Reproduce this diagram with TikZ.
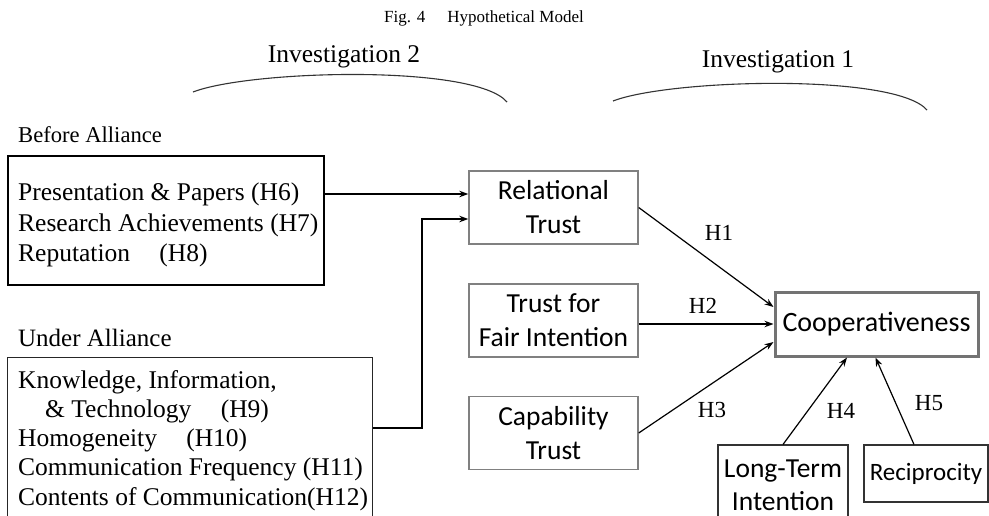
\documentclass[tikz,border=0pt]{standalone}
\usepackage{fontspec}
\setmainfont{Liberation Serif}
\newfontfamily\boxfont{Carlito}
\usetikzlibrary{arrows.meta,calc}
\begin{document}
\begin{tikzpicture}[x=1pt,y=-1pt,
  serif/.style={inner sep=0pt,font=\fontsize{25.5}{30.5}\selectfont},
  hlab/.style={inner sep=0pt,font=\fontsize{23}{26}\selectfont},
  inv/.style={inner sep=0pt,anchor=base,font=\fontsize{25.5}{30}\selectfont},
  gbox/.style={draw=black!50,line width=1.4pt,minimum width=169pt,minimum height=73pt,
    inner sep=0pt,align=center,font=\boxfont\fontsize{27.5}{34}\selectfont},
  dbox/.style={draw=black!80,line width=1.1pt,inner sep=0pt,align=center,
    font=\boxfont\fontsize{27.5}{33}\selectfont},
  arr/.style={-{Stealth[length=9pt,width=6.5pt]},line width=1.2pt},
  brace/.style={line width=1.1pt,draw=black!80},
]
\useasboundingbox (0,0) rectangle (989,515);
\clip (0,0) rectangle (989,515);

% title and headings
\node[inner sep=0pt,anchor=base,font=\fontsize{17}{20}\selectfont] (title) at (484,22) {Fig. 4\hspace{1.3em}Hypothetical Model};
\node[inv] (inv2) at (344,62) {Investigation 2};
\node[inv] (inv1) at (778,67) {Investigation 1};

% arcs
\coordinate (a1l) at (193,92);
\coordinate (a1r) at (507,102);
\draw[brace] (a1l) .. controls (250,70) and (475,64) .. (a1r);
\coordinate (a2l) at (613,101);
\coordinate (a2r) at (927,110);
\draw[brace] (a2l) .. controls (670,79) and (895,73) .. (a2r);

% before alliance
\node[inner sep=0pt,anchor=base west,font=\fontsize{22.6}{26}\selectfont] (before) at (18,142) {Before Alliance};
\node[draw,line width=1.8pt,anchor=north west,minimum width=316pt,minimum height=129pt,inner sep=0pt] (bA) at (7,155) {};
\node[serif,anchor=base west] (a1) at (18,200.5) {Presentation \& Papers (H6)};
\node[serif,anchor=base west] (a2) at (18,231.5) {Research Achievements (H7)};
\node[serif,anchor=base west] (a3) at (18,261.5) {Reputation\hspace{1.15em}(H8)};

% under alliance
\node[inner sep=0pt,anchor=base west,font=\fontsize{25}{29}\selectfont] (under) at (18,346) {Under Alliance};
\node[draw=black!85,line width=1pt,anchor=north west,minimum width=365pt,minimum height=190pt,inner sep=0pt] (bB) at (7,357) {};
\node[serif,anchor=base west] (b1) at (18,388.5) {Knowledge, Information,};
\node[serif,anchor=base west] (b2) at (45,417) {\& Technology\hspace{1.15em}(H9)};
\node[serif,anchor=base west] (b3) at (18,446.5) {Homogeneity\hspace{1.15em}(H10)};
\node[serif,anchor=base west] (b4) at (18,475.5) {Communication Frequency (H11)};
\node[serif,anchor=base west] (b5) at (18,505.5) {Contents of Communication(H12)};

% trust boxes
\node[gbox] (rel) at (553.5,207.5) {Relational\\Trust};
\node[gbox] (fair) at (553.5,320.5) {Trust for\\Fair Intention};
\node[gbox] (cap) at (553.5,433) {Capability\\Trust};

% cooperativeness and moderators
\node[draw=black!55,line width=3pt,minimum width=203pt,minimum height=64pt,inner sep=0pt,
  font=\boxfont\fontsize{28}{33}\selectfont] (coop) at (876.5,324) {Cooperativeness};
\node[dbox,minimum width=130pt,minimum height=80pt] (lt) at (783,485) {Long-Term\\Intention};
\node[dbox,minimum width=124pt,minimum height=57pt,font=\boxfont\fontsize{25}{30}\selectfont] (rec) at (926,473.5) {Reciprocity};

% connectors into relational trust
\coordinate (r1) at ([yshift=13.5pt]rel.west);
\coordinate (r2) at ([yshift=-11.5pt]rel.west);
\draw[arr] (bA.east |- r1) -- (r1);
\draw[arr] ([yshift=-71pt]bB.north east) -- ++(49,0) |- (r2);

% hypotheses
\draw[arr] (rel.east) -- ([yshift=17pt]coop.west);
\draw[arr] (fair.east |- coop.west) -- (coop.west);
\draw[arr] (cap.east) -- ([yshift=-18pt]coop.west);
\draw[arr] (lt.north) -- ([xshift=-29.5pt]coop.south);
\draw[arr] ([xshift=-12pt]rec.north) -- ([xshift=-1pt]coop.south);

\node[hlab] (h1) at (719,233) {H1};
\node[hlab] (h2) at (703,306) {H2};
\node[hlab] (h3) at (712,410) {H3};
\node[hlab] (h4) at (841,411) {H4};
\node[hlab] (h5) at (929,403) {H5};
\end{tikzpicture}
\end{document}
